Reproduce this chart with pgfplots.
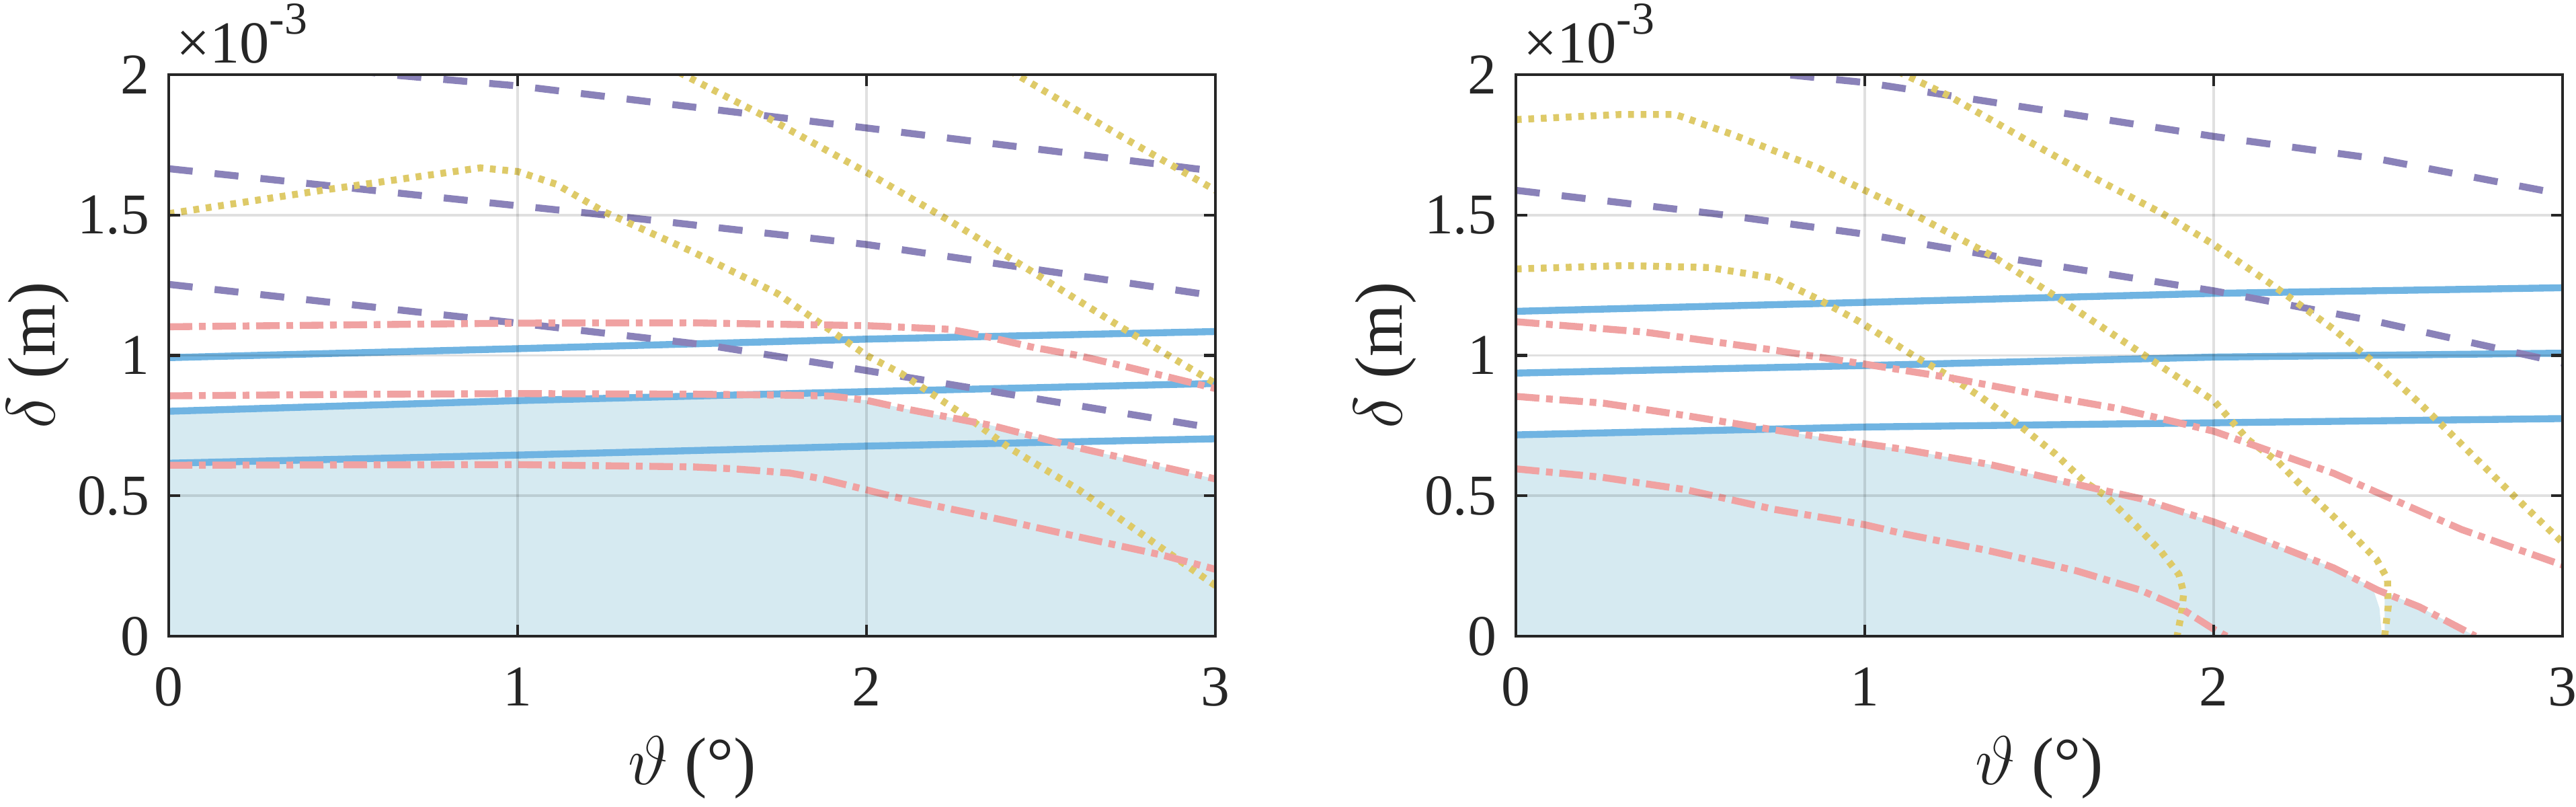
\documentclass[border=0pt]{standalone}
\usepackage{fontspec}
\setmainfont{Liberation Serif}
\usepackage{pgfplots}
\pgfplotsset{compat=1.18}

\definecolor{axcol}{RGB}{38,38,38}
\definecolor{cblue}{RGB}{112,180,226}
\definecolor{cpink}{RGB}{240,162,162}
\definecolor{cpurp}{RGB}{138,130,185}
\definecolor{cyell}{RGB}{222,202,104}
\definecolor{cfill}{RGB}{214,234,241}

\newcommand{\expolabel}{×10\raisebox{6pt}{\fontsize{9.5}{10}\selectfont -3}}

\pgfplotsset{
  myax/.style={
    scale only axis, width=218pt, height=116.9pt,
    xmin=0, xmax=3, ymin=0, ymax=2,
    xtick={0,1,2,3}, ytick={0,0.5,1,1.5,2},
    grid=major, axis on top,
    tick align=inside, major tick length=2.4pt,
    axis line style={line width=0.6pt, color=axcol},
    tick style={line width=0.6pt, color=axcol},
    major grid style={line width=0.5pt, color=black, opacity=0.12},
    ticklabel style={font=\fontsize{12}{14.4}\selectfont, color=axcol},
    xticklabel style={yshift=-3pt},
    yticklabel style={xshift=-0.5pt},
    /pgf/number format/assume math mode=true,
    label style={font=\fontsize{14}{16.8}\selectfont, color=axcol},
    xlabel={$\vartheta$ (°)},
    ylabel={$\delta$ (m)},
    xlabel style={at={(axis description cs:0.5,-0.234)}, anchor=center},
    ylabel style={at={(axis description cs:-0.1248,0.5)}, anchor=center},
  },
  bl/.style={color=cblue, line width=1.45pt, solid},
  pu/.style={color=cpurp, line width=1.45pt, line cap=butt, dash pattern=on 5pt off 4.6pt},
  ye/.style={color=cyell, line width=1.45pt, line cap=butt, dash pattern=on 1.2pt off 1.4pt},
  pk/.style={color=cpink, line width=1.45pt, line cap=butt, dash pattern=on 4.9pt off 1.4pt on 1.4pt off 1.4pt},
}

\begin{document}
\begin{tikzpicture}
\path[use as bounding box] (0,0) rectangle (536.48pt,168pt);

% ---------------- left panel ----------------
\begin{axis}[myax, name=L, at={(35.14pt,35.56pt)}, anchor=south west]
\addplot[fill=cfill, draw=none] coordinates {(0,0.801) (0.5,0.820) (1,0.839) (1.5,0.855) (1.65,0.858) (1.8,0.857) (1.9,0.853) (2.0,0.84) (2.11,0.81) (2.36,0.75) (2.61,0.67) (3,0.56)} \closedcycle;
% blue solid
\addplot[bl] coordinates {(0,0.992) (1,1.024) (2,1.058) (3,1.085)};
\addplot[bl] coordinates {(0,0.801) (1,0.839) (2,0.871) (3,0.900)};
\addplot[bl] coordinates {(0,0.616) (1,0.645) (2,0.677) (3,0.703)};
% purple dashed
\addplot[pu] coordinates {(0,2.1) (0.63,2.0) (1,1.96) (2,1.81) (3,1.656)};
\addplot[pu] coordinates {(0,1.665) (1,1.533) (1.253,1.50) (2,1.395) (3,1.212)};
\addplot[pu] coordinates {(0,1.253) (1,1.115) (1.536,1.038) (2,0.946) (3,0.74)};
% yellow dotted
\addplot[ye] coordinates {(0,1.505) (0.45,1.59) (0.893,1.668) (1.0,1.655) (1.11,1.61) (1.25,1.51) (1.5,1.37) (1.745,1.22) (2.0,1.0) (2.1,0.935) (2.3,0.77) (2.41,0.67) (2.61,0.52) (2.85,0.31) (3.0,0.18)};
\addplot[ye] coordinates {(1.4,2.05) (1.475,2.0) (1.72,1.844) (2.0,1.652) (2.24,1.478) (2.48,1.294) (2.73,1.10) (3.0,0.90)};
\addplot[ye] coordinates {(2.35,2.06) (2.43,2.0) (2.73,1.78) (3.0,1.588)};
% pink dash-dot
\addplot[pk] coordinates {(0,1.102) (1,1.115) (1.5,1.116) (2,1.106) (2.237,1.093) (2.32,1.074) (2.48,1.028) (2.606,1.0) (2.73,0.964) (3,0.882)};
\addplot[pk] coordinates {(0,0.856) (0.5,0.861) (1,0.864) (1.5,0.862) (1.8,0.858) (1.9,0.855) (2.0,0.84) (2.11,0.81) (2.36,0.75) (2.61,0.67) (3,0.56)};
\addplot[pk] coordinates {(0,0.609) (1,0.611) (1.5,0.603) (1.62,0.596) (1.78,0.581) (1.87,0.561) (2,0.521) (2.11,0.487) (2.36,0.422) (2.61,0.353) (2.85,0.288) (3,0.238)};
\end{axis}
\node[anchor=base west, inner sep=0pt, font=\fontsize{12.4}{14.4}\selectfont, text=axcol] at ([xshift=1.4pt, yshift=2.4pt]L.north west) {\expolabel};

% ---------------- right panel ----------------
\begin{axis}[myax, name=R, at={(315.7pt,35.56pt)}, anchor=south west]
\addplot[fill=cfill, draw=none] coordinates {(0,0.717) (0.5,0.731) (0.73,0.737) (1,0.685) (1.114,0.665) (1.36,0.611) (1.606,0.541) (1.79,0.49) (2,0.407) (2.16,0.333) (2.344,0.243) (2.455,0.175) (2.475,0.10) (2.482,0.0)} \closedcycle;
\addplot[fill=cfill, draw=none] coordinates {(2.49,0.158) (2.59,0.104) (2.75,0.0)} \closedcycle;
% blue solid
\addplot[bl] coordinates {(0,1.157) (1,1.189) (2,1.221) (3,1.241)};
\addplot[bl] coordinates {(0,0.937) (1,0.964) (2,0.994) (3,1.008)};
\addplot[bl] coordinates {(0,0.717) (1,0.745) (2,0.760) (3,0.775)};
% purple dashed
\addplot[pu] coordinates {(0,2.12) (0.776,2.0) (1,1.972) (1.355,1.904) (2,1.78) (2.47,1.70) (3,1.574)};
\addplot[pu] coordinates {(0,1.588) (0.567,1.505) (1,1.432) (1.39,1.35) (2,1.23) (2.47,1.12) (3,0.973)};
% yellow dotted
\addplot[ye] coordinates {(0,1.84) (0.3,1.858) (0.456,1.858) (0.49,1.844) (0.616,1.789) (0.862,1.67) (1.0,1.588) (1.114,1.52) (1.36,1.358) (1.545,1.212) (1.79,1.01) (1.865,0.948) (2.0,0.839) (2.098,0.70) (2.185,0.62) (2.28,0.50) (2.34,0.43) (2.406,0.35) (2.467,0.273) (2.498,0.204) (2.50,0.104) (2.49,0.0)};
\addplot[ye] coordinates {(0,1.308) (0.31,1.32) (0.554,1.313) (0.739,1.276) (0.862,1.203) (0.985,1.12) (1.145,0.995) (1.237,0.93) (1.336,0.849) (1.434,0.76) (1.545,0.65) (1.63,0.55) (1.69,0.50) (1.78,0.39) (1.85,0.30) (1.90,0.22) (1.914,0.154) (1.908,0.084) (1.895,0.0)};
\addplot[ye] coordinates {(1.0,2.07) (1.114,2.0) (1.237,1.927) (1.483,1.753) (1.668,1.625) (1.852,1.506) (2,1.395) (2.16,1.258) (2.344,1.093) (2.474,0.96) (2.59,0.83) (2.713,0.68) (2.86,0.50) (3.0,0.333)};
% pink dash-dot
\addplot[pk] coordinates {(0,1.12) (0.37,1.083) (0.739,1.019) (1,0.969) (1.237,0.922) (1.483,0.864) (1.73,0.81) (1.9,0.76) (2,0.73) (2.16,0.66) (2.344,0.58) (2.49,0.50) (2.71,0.38) (3,0.253)};
\addplot[pk] coordinates {(0,0.854) (0.25,0.83) (0.49,0.785) (0.739,0.735) (1,0.685) (1.114,0.665) (1.36,0.611) (1.606,0.541) (1.79,0.49) (2,0.407) (2.16,0.333) (2.344,0.243) (2.47,0.164) (2.59,0.104) (2.75,0.0)};
\addplot[pk] coordinates {(0,0.596) (0.246,0.566) (0.49,0.521) (0.739,0.452) (1,0.397) (1.114,0.364) (1.36,0.303) (1.606,0.233) (1.79,0.164) (1.9,0.104) (2,0.025) (2.037,0.0)};
\end{axis}
\node[anchor=base west, inner sep=0pt, font=\fontsize{12.4}{14.4}\selectfont, text=axcol] at ([xshift=1.4pt, yshift=2.4pt]R.north west) {\expolabel};
\end{tikzpicture}
\end{document}
